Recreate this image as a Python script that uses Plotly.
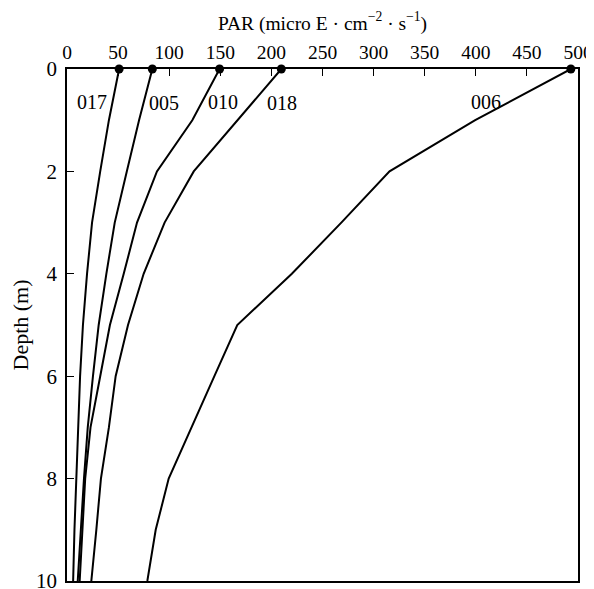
import plotly.graph_objects as go

depth = [0, 1, 2, 3, 4, 5, 6, 7, 8, 9, 10]
par_017 = [51, 41, 32.5, 24.5, 19.6, 15.6, 12.8, 10.8, 8.8, 7.3, 6.0]
par_005 = [83.5, 70.5, 58.5, 46.7, 38.5, 31.0, 25.4, 20.3, 16.6, 13.5, 10.5]
par_010 = [149.3, 122.6, 88.0, 68.5, 55.5, 42.0, 32.5, 23.0, 17.8, 15.0, 12.4]
par_018 = [209.7, 167.0, 124.0, 95.5, 75.0, 59.7, 47.6, 41.0, 33.2, 28.7, 23.8]
par_006 = [493, 399.4, 315.6, 268.4, 220, 166.6, 144.2, 121.9, 99.5, 86.8, 78.6]

series = [("017", par_017), ("005", par_005), ("010", par_010), ("018", par_018), ("006", par_006)]
label_x = [24.8, 94.8, 152.5, 210.3, 409.7]
label_y = [0.64, 0.66, 0.64, 0.66, 0.64]
x_ticks = [0, 50, 100, 150, 200, 250, 300, 350, 400, 450, 500]
y_ticks = [0, 2, 4, 6, 8, 10]

FONT = "Liberation Serif"

fig = go.Figure()
for name, vals in series:
    fig.add_trace(go.Scatter(
        x=vals, y=depth, mode="lines",
        line=dict(color="black", width=2),
        showlegend=False, cliponaxis=False,
    ))
    fig.add_trace(go.Scatter(
        x=[vals[0]], y=[depth[0]], mode="markers",
        marker=dict(color="black", size=9),
        showlegend=False, cliponaxis=False,
    ))

for (name, _), lx, ly in zip(series, label_x, label_y):
    fig.add_annotation(x=lx, y=ly, text=name, showarrow=False,
                       font=dict(family=FONT, size=20, color="black"),
                       xanchor="center", yanchor="middle")

# page body adds an 8px offset, so the figure is sized/margined to compensate
fig.update_layout(
    width=586, height=581,
    margin=dict(l=59, r=16, t=61, b=8, autoexpand=False),
    paper_bgcolor="white", plot_bgcolor="white",
    font=dict(family=FONT, size=20, color="black"),
)
fig.update_xaxes(
    side="top", range=[0, 500], tickvals=x_ticks,
    ticks="inside", ticklen=7, tickwidth=1.2, tickcolor="black",
    showline=True, linecolor="black", linewidth=1.5, mirror=True,
    showgrid=False, zeroline=False, automargin=False,
    ticklabeloverflow="allow",
    tickfont=dict(family=FONT, size=19.5),
    title=dict(text="PAR (micro E · cm<sup>−2</sup> · s<sup>−1</sup>)",
               font=dict(family=FONT, size=19.5), standoff=7),
)
fig.update_yaxes(
    range=[10, 0], tickvals=y_ticks,
    ticks="inside", ticklen=7, tickwidth=1.2, tickcolor="black",
    showline=True, linecolor="black", linewidth=1.5, mirror=True,
    showgrid=False, zeroline=False, automargin=False,
    ticklabeloverflow="allow",
    tickfont=dict(family=FONT, size=21),
    ticklabelstandoff=4,
    title=dict(text="Depth (m)", font=dict(family=FONT, size=22), standoff=16),
)

fig.write_html("out.html")
